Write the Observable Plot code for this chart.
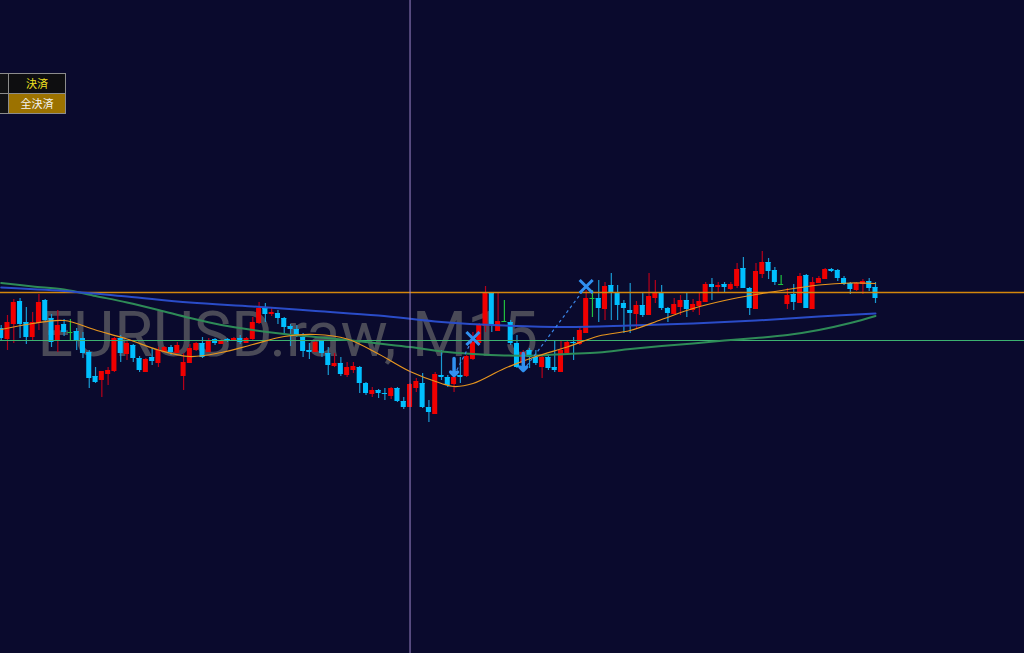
<!DOCTYPE html>
<html>
<head>
<meta charset="utf-8">
<script src="https://cdn.jsdelivr.net/npm/d3@7"></script>
<script src="https://cdn.jsdelivr.net/npm/@observablehq/plot@0.6"></script>
<style>
  html, body { margin: 0; padding: 0; background: #0a0a2d; overflow: hidden; }
  #wrap { position: relative; width: 1024px; height: 653px; }
  .btn { position: absolute; box-sizing: border-box; border: 1px solid #8c8c8c;
         font: 11px "Noto Sans CJK JP", sans-serif; text-align: center; line-height: 19px; }
</style>
</head>
<body>
<div id="wrap">
  <div id="chart"></div>
  <div class="btn" style="left:-1px;top:73px;width:10px;height:21px;background:#111114"></div>
  <div class="btn" style="left:-1px;top:93px;width:10px;height:21px;background:#111114"></div>
  <div class="btn" id="b1" style="left:8px;top:73px;width:58px;height:21px;background:#0e0e10;color:#f0e020"></div>
  <div class="btn" id="b2" style="left:8px;top:93px;width:58px;height:21px;background:#9c7200;color:#f4f4f4"></div>
</div>
<script>
const symbol = "EURUSD.raw, M15";
const buttons = ["決済", "全決済"];
const pt = 1e-5; // prices below are in points

// M15 candles, oldest first (points)
const open = [108928,108908,108938,108982,108940,108912,108940,108984,108948,108904,
  108936,108920,108922,108908,108880,108832,108826,108838,108844,108908,
  108878,108894,108868,108842,108870,108860,108882,108890,108880,108834,
  108860,108886,108898,108882,108906,108898,108906,108904,108908,108900,
  108908,108940,108968,108958,108958,108948,108932,108926,108910,108884,
  108882,108902,108878,108854,108858,108836,108846,108850,108818,108798,
  108804,108798,108794,108808,108782,108772,108810,108818,108770,108758,
  108834,108830,108818,108834,108834,108868,108900,108934,108998,108924,
  108942,108940,108898,108860,108884,108870,108852,108870,108850,108842,
  108880,108900,108898,108920,108988,108988,108968,109014,109000,108978,
  108964,108958,108974,108956,108990,109000,108968,108958,108972,108984,
  108966,108974,108982,109016,109012,109016,109008,109014,109048,109008,
  108968,109038,109060,109044,109016,108978,108996,108980,109034,108968,
  109020,109028,109046,109044,109028,109018,109006,109018,109022,109010];
const high = [108934,108954,108986,108988,108970,108960,108996,108986,108956,108964,
  108946,108946,108928,108920,108884,108850,108842,108850,108910,108914,
  108904,108896,108872,108868,108888,108890,108892,108894,108900,108878,
  108896,108900,108910,108908,108908,108904,108908,108910,108914,108910,
  108950,108980,108978,108968,108964,108950,108936,108934,108918,108898,
  108904,108904,108890,108878,108870,108860,108860,108852,108820,108810,
  108806,108808,108810,108810,108790,108818,108828,108838,108784,108840,
  108884,108834,108834,108870,108874,108920,108938,109012,109000,109000,
  108984,108944,108914,108884,108888,108884,108874,108874,108904,108902,
  108904,108910,108928,109004,109004,109024,109020,109038,109014,108984,
  109018,108982,108998,109038,109024,109014,108970,108988,108994,108998,
  108986,108998,109020,109028,109020,109020,109020,109058,109070,109010,
  109058,109082,109068,109050,109034,109008,109016,109038,109036,109030,
  109032,109048,109048,109046,109032,109020,109020,109026,109028,109020];
const low = [108902,108884,108898,108908,108896,108904,108924,108942,108890,108880,
  108912,108904,108884,108868,108808,108818,108790,108814,108840,108860,
  108864,108860,108840,108840,108854,108850,108880,108874,108878,108804,
  108858,108882,108868,108880,108894,108896,108900,108902,108896,108898,
  108904,108936,108940,108952,108936,108916,108892,108910,108870,108866,
  108880,108870,108834,108850,108832,108830,108838,108798,108794,108790,
  108788,108784,108786,108780,108766,108770,108800,108768,108740,108758,
  108824,108810,108800,108818,108830,108864,108894,108920,108920,108922,
  108940,108894,108848,108844,108848,108854,108828,108844,108840,108840,
  108874,108864,108894,108918,108950,108940,108944,108944,108944,108918,
  108918,108928,108950,108954,108978,108964,108940,108956,108954,108950,
  108960,108954,108980,108984,108998,109000,109004,109008,109008,108954,
  108966,109028,109026,109014,109014,108966,108964,108980,108968,108966,
  109018,109028,109040,109022,109014,108996,109002,108996,109002,108978];
const close = [108908,108940,108980,108936,108910,108940,108980,108944,108900,108934,
  108920,108920,108904,108878,108828,108820,108842,108844,108908,108878,
  108898,108868,108844,108866,108862,108884,108890,108880,108894,108860,
  108888,108898,108870,108904,108898,108902,108902,108908,108900,108908,
  108940,108968,108956,108960,108948,108930,108926,108912,108882,108880,
  108900,108878,108854,108858,108836,108850,108852,108818,108798,108804,
  108798,108796,108808,108782,108770,108816,108822,108770,108760,108836,
  108830,108814,108830,108830,108872,108900,108934,109000,108934,108942,
  108942,108898,108850,108880,108870,108858,108870,108848,108844,108884,
  108900,108898,108924,108988,108988,108968,109012,109000,108974,108968,
  108958,108974,108954,108992,109000,108968,108958,108976,108984,108966,
  108976,108982,109016,109010,109014,109010,109016,109046,109008,108968,
  109042,109060,109042,109020,109016,108994,108980,109032,108968,109020,
  109028,109046,109042,109028,109016,109006,109018,109022,109008,108988];

// moving averages read at sample bars (points)
const fastBars = [0,5,10,15,20,25,30,35,40,45,50,55,60,65,70,72,75,80,85,90,95,100,105,110,115,120,125,130,135,139];
const fastMA = [108926,108938,108944,108925,108907,108885,108872,108880,108896,108912,108916,108907,108877,108842,108818,
  108812,108818,108848,108872,108891,108913,108924,108946,108968,108984,108996,109006,109015,109019,109018];
const midBars = [0,10,20,30,40,50,60,70,80,90,100,110,120,130,139];
const midMA = [109010,109003,108992,108980,108972,108963,108954,108941,108934,108931,108934,108938,108944,108952,108958];
const slowBars = [0,5,10,15,20,25,30,35,40,45,50,55,60,65,70,75,80,85,90,95,100,105,110,115,120,125,130,135,139];
const slowMA = [109019,109012,109006,108993,108980,108965,108949,108935,108925,108917,108911,108905,108898,108891,108882,
  108877,108874,108874,108877,108880,108887,108893,108898,108904,108909,108915,108925,108939,108953];

// horizontal levels, crosshair and trade history
const levelOrange = 109000;
const levelGreen = 108904;
const crossBar = 65;
const tradeOpenBar = [72, 83];
const tradeOpenPrice = [108834, 108844];
const tradeCloseBar = [75, 93];
const tradeClosePrice = [108908, 109012];

const bars = open.map((o, i) => ({
  i, o: o * pt, h: high[i] * pt, l: low[i] * pt, c: close[i] * pt,
  dir: close[i] > o ? "up" : close[i] < o ? "down" : "flat"
}));
const bodyColor = {up: "#f00000", down: "#00bfff", flat: "#20c040"};
const wickColor = {up: "#b8001a", down: "#1a9ad2", flat: "#20c040"};
const series = (bs, vs) => bs.map((b, k) => ({b, v: vs[k] * pt}));
const trades = tradeOpenBar.map((b, k) => ({
  ob: b, op: tradeOpenPrice[k] * pt, cb: tradeCloseBar[k], cp: tradeClosePrice[k] * pt
}));
const half = 0.4;

const chart = Plot.plot({
  width: 1024,
  height: 653,
  margin: 0,
  style: {background: "transparent", overflow: "visible", fontFamily: "Roboto"},
  x: {domain: [-0.111, 162.69], axis: null},
  y: {domain: [1.08278, 1.09584], axis: null},
  marks: [
    Plot.text([symbol], {frameAnchor: "top-left", dx: 37, dy: 311, lineAnchor: "top", textAnchor: "start",
      fontSize: 63, fontFamily: "Roboto", fill: "#4a4a57"}),
    Plot.ruleX(bars, {x: "i", y1: "l", y2: "h", stroke: d => wickColor[d.dir], strokeWidth: 1.2}),
    Plot.rect(bars, {x1: d => d.i - half, x2: d => d.i + half, y1: "o", y2: "c", fill: d => bodyColor[d.dir]}),
    Plot.ruleY(bars, {x1: d => d.i - half, x2: d => d.i + half, y: "o", stroke: d => bodyColor[d.dir], strokeWidth: 1}),
    Plot.ruleY([levelOrange * pt], {stroke: "#d4870c", strokeWidth: 1.5}),
    Plot.ruleY([levelGreen * pt], {stroke: "#3cb371", strokeWidth: 1}),
    Plot.line(series(slowBars, slowMA), {x: "b", y: "v", curve: "catmull-rom", stroke: "#2e8b57", strokeWidth: 2}),
    Plot.line(series(midBars, midMA), {x: "b", y: "v", curve: "catmull-rom", stroke: "#2a4cc8", strokeWidth: 2}),
    Plot.line(series(fastBars, fastMA), {x: "b", y: "v", curve: "catmull-rom", stroke: "#e8961e", strokeWidth: 1.2}),
    Plot.ruleX([crossBar], {stroke: "#9c86c8", strokeWidth: 1}),
    Plot.link(trades, {x1: "ob", y1: "op", x2: "cb", y2: "cp", stroke: "#3a86e8", strokeWidth: 1.2, strokeDasharray: "3,3"}),
    Plot.vector(trades, {x: "ob", y: "op", length: 17, rotate: 180, anchor: "end", stroke: "#3090f0", strokeWidth: 3.5}),
    Plot.dot(trades, {x: "cb", y: "cp", symbol: "times", r: 6, stroke: "#3090f0", strokeWidth: 3, fill: "none"})
  ]
});
d3.select("#chart").append(() => chart);
d3.select("#b1").text(buttons[0]);
d3.select("#b2").text(buttons[1]);
</script>
</body>
</html>
